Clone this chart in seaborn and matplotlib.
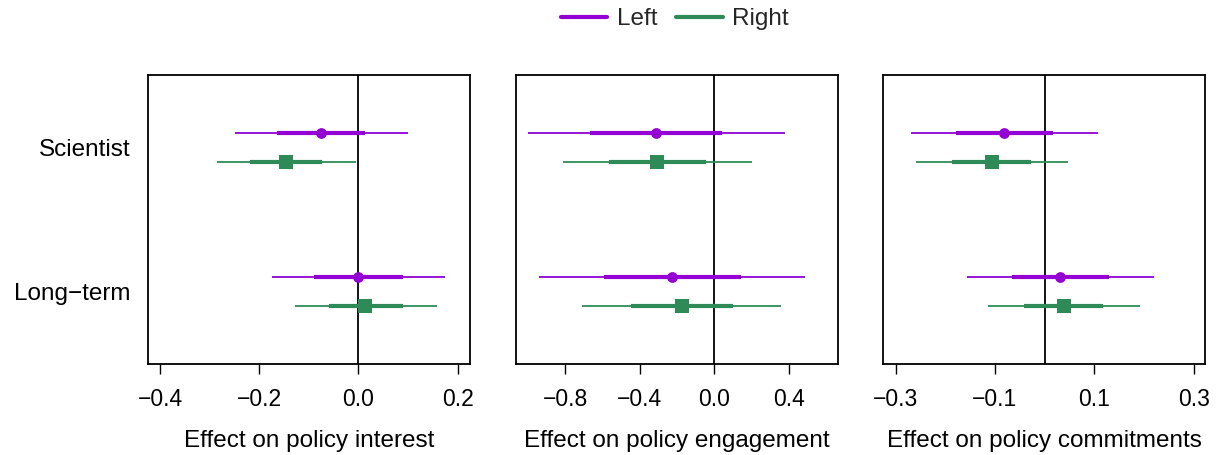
import numpy as np
import pandas as pd
import matplotlib
matplotlib.use("Agg")
import matplotlib.pyplot as plt
import seaborn as sns
from matplotlib.lines import Line2D

# ---------------- data ----------------
treatments = ["Scientist", "Long\u2212term"]
groups = ["Left", "Right"]
outcomes = ["Effect on policy interest", "Effect on policy engagement", "Effect on policy commitments"]

# point estimates (per treatment: Scientist, Long-term)
interest_left_est = [-0.076, 0.000]
interest_right_est = [-0.146, 0.014]
engagement_left_est = [-0.312, -0.226]
engagement_right_est = [-0.309, -0.174]
commit_left_est = [-0.081, 0.031]
commit_right_est = [-0.107, 0.039]

# inner (thick) intervals
interest_left_inner = [(-0.165, 0.014), (-0.090, 0.090)]
interest_right_inner = [(-0.218, -0.073), (-0.059, 0.089)]
engagement_left_inner = [(-0.666, 0.043), (-0.594, 0.142)]
engagement_right_inner = [(-0.565, -0.047), (-0.450, 0.100)]
commit_left_inner = [(-0.178, 0.017), (-0.066, 0.130)]
commit_right_inner = [(-0.186, -0.027), (-0.041, 0.118)]

# outer (thin) intervals
interest_left_outer = [(-0.250, 0.100), (-0.175, 0.174)]
interest_right_outer = [(-0.286, -0.005), (-0.128, 0.158)]
engagement_left_outer = [(-1.001, 0.377), (-0.939, 0.488)]
engagement_right_outer = [(-0.811, 0.201), (-0.709, 0.357)]
commit_left_outer = [(-0.270, 0.108), (-0.157, 0.220)]
commit_right_outer = [(-0.260, 0.047), (-0.115, 0.192)]

x_ticks = [[-0.4, -0.2, 0.0, 0.2], [-0.8, -0.4, 0.0, 0.4], [-0.3, -0.1, 0.1, 0.3]]
x_ticklabels = [["\u22120.4", "\u22120.2", "0.0", "0.2"],
                ["\u22120.8", "\u22120.4", "0.0", "0.4"],
                ["\u22120.3", "\u22120.1", "0.1", "0.3"]]
x_limits = [(-0.424, 0.2257), (-1.064, 0.662), (-0.325, 0.3234)]

# ---------------- build long table ----------------
panels = [
    (interest_left_est, interest_right_est, interest_left_inner, interest_right_inner,
     interest_left_outer, interest_right_outer),
    (engagement_left_est, engagement_right_est, engagement_left_inner, engagement_right_inner,
     engagement_left_outer, engagement_right_outer),
    (commit_left_est, commit_right_est, commit_left_inner, commit_right_inner,
     commit_left_outer, commit_right_outer),
]
rows = []
for p, (le, re_, li, ri, lo, ro) in enumerate(panels):
    for g, (est, inn, out) in enumerate([(le, li, lo), (re_, ri, ro)]):
        for t in range(len(treatments)):
            rows.append(dict(outcome=outcomes[p], group=groups[g], treat=t + 1,
                             ypos=t + 1 + (-0.1 if g == 0 else 0.1),
                             est=est[t], in_lo=inn[t][0], in_hi=inn[t][1],
                             out_lo=out[t][0], out_hi=out[t][1]))
df = pd.DataFrame(rows)

# ---------------- style ----------------
sns.set_theme(style="white")
plt.rcParams["font.family"] = ["Liberation Sans", "DejaVu Sans"]
palette = {"Left": "#9400D3", "Right": "#2E8B57"}
markers = {"Left": "o", "Right": "s"}
sizes = {"Left": 60, "Right": 90}

fig = plt.figure(figsize=(12.17, 4.55), dpi=100)
lefts = [0.1219, 0.424, 0.7258]
width = 0.2645
bottom, top = 0.2, 0.8352

for p, outcome in enumerate(outcomes):
    ax = fig.add_axes([lefts[p], bottom, width, top - bottom])
    sub = df[df.outcome == outcome]
    ax.axvline(0, color="black", lw=1.3, zorder=1)
    for g in groups:
        s = sub[sub.group == g]
        ax.hlines(s.ypos, s.out_lo, s.out_hi, color=palette[g], lw=1.3, zorder=2)
        ax.hlines(s.ypos, s.in_lo, s.in_hi, color=palette[g], lw=3.0, zorder=3)
        sns.scatterplot(data=s, x="est", y="ypos", ax=ax, color=palette[g],
                        marker=markers[g], s=sizes[g], linewidth=0, zorder=4,
                        legend=False)
    ax.set_xlim(*x_limits[p])
    ax.set_ylim(2.5, 0.5)
    ax.set_xticks(x_ticks[p], x_ticklabels[p])
    if p == 0:
        ax.set_yticks([1, 2], treatments)
    else:
        ax.set_yticks([])
    ax.tick_params(axis="x", which="both", bottom=True, length=7, width=1.0,
                   color="black", labelsize=16.5, pad=10, labelcolor="black")
    ax.tick_params(axis="y", length=0, labelsize=17.5, pad=13, labelcolor="black")
    ax.set_xlabel(outcome, fontsize=17.5, labelpad=14, color="black")
    ax.set_ylabel("")
    for sp in ax.spines.values():
        sp.set_color("black")
        sp.set_linewidth(1.3)

handles = [Line2D([0], [0], color=palette[g], lw=3) for g in groups]
fig.legend(handles, groups, loc="center", bbox_to_anchor=(0.5545, 0.958), ncol=2,
           frameon=False, fontsize=17.5, handlelength=1.9, handletextpad=0.4,
           columnspacing=0.8)

fig.savefig("out.png", dpi=100)
